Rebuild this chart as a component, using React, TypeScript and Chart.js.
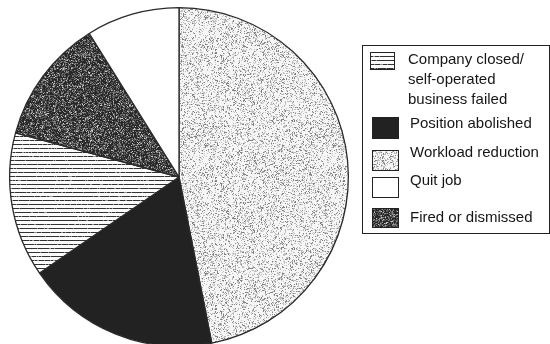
import React, { useEffect, useRef } from "react";
import { Chart, registerables } from "chart.js";

Chart.register(...registerables);

// Reasons for job loss, clockwise from 12 o'clock
const categoryLines: string[][] = [
  ["Workload reduction"],
  ["Position abolished"],
  ["Company closed/", "self-operated", "business failed"],
  ["Fired or dismissed"],
  ["Quit job"],
];
const categories = categoryLines.map((l) => l.join(" "));
const shares = [46.9, 18.5, 13.8, 11.9, 8.9];
// order in which the key lists the categories
const legendOrder = [2, 1, 0, 4, 3];

type Fill = "light" | "solid" | "lines" | "dark" | "white";
const fills: Fill[] = ["light", "solid", "lines", "dark", "white"];

function hash(x: number, y: number, seed: number): number {
  let h = Math.imul(x, 374761393) + Math.imul(y, 668265263) + Math.imul(seed, 1442695041);
  h = Math.imul(h ^ (h >>> 13), 1274126177);
  h = h ^ (h >>> 16);
  return (h >>> 0) / 4294967296;
}

function makeTile(kind: Fill): HTMLCanvasElement {
  const size = 128;
  const c = document.createElement("canvas");
  c.width = size;
  c.height = size;
  const g = c.getContext("2d")!;
  const img = g.createImageData(size, size);
  for (let y = 0; y < size; y++) {
    for (let x = 0; x < size; x++) {
      let v = 255;
      const r = hash(x, y, kind === "dark" ? 7 : kind === "lines" ? 3 : 1);
      if (kind === "light") {
        v = r < 0.1 ? 130 : r < 0.3 ? 190 : 246;
      } else if (kind === "dark") {
        v = r < 0.5 ? 40 : r < 0.8 ? 90 : r < 0.95 ? 140 : 200;
      } else if (kind === "solid") {
        v = 34;
      } else if (kind === "lines") {
        v = y % 4 === 0 ? (r < 0.85 ? 50 : 150) : 252;
      }
      const i = (y * size + x) * 4;
      img.data[i] = v;
      img.data[i + 1] = v;
      img.data[i + 2] = v;
      img.data[i + 3] = 255;
    }
  }
  g.putImageData(img, 0, 0);
  return c;
}

export default function App() {
  const ref = useRef<HTMLCanvasElement>(null);

  useEffect(() => {
    const canvas = ref.current!;
    const ctx = canvas.getContext("2d")!;
    const patterns = fills.map((f) => ctx.createPattern(makeTile(f), "repeat")!);

    const keyPlugin = {
      id: "reasonKey",
      afterDraw(chart: Chart) {
        const c = chart.ctx;
        c.save();
        c.strokeStyle = "#222";
        c.lineWidth = 1;
        c.strokeRect(362.5, 45.5, 187, 188);

        const rows = [
          { box: [370, 52, 24, 17], text: [408, 60] },
          { box: [372, 117, 26, 21], text: [410, 124] },
          { box: [372, 150, 26, 20], text: [410, 153] },
          { box: [372, 177, 26, 20], text: [410, 181] },
          { box: [372, 208, 26, 19], text: [410, 218] },
        ];
        c.font = '15px "Liberation Sans", Arial, sans-serif';
        c.textBaseline = "middle";
        c.textAlign = "left";
        legendOrder.forEach((idx, k) => {
          const { box, text } = rows[k];
          c.fillStyle = patterns[idx];
          c.fillRect(box[0], box[1], box[2], box[3]);
          c.strokeStyle = "#222";
          c.strokeRect(box[0] + 0.5, box[1] + 0.5, box[2], box[3]);
          c.fillStyle = "#161616";
          categoryLines[idx].forEach((line, j) => {
            c.fillText(line, text[0], text[1] + j * 20);
          });
        });
        c.restore();
      },
    };

    const chart = new Chart(canvas, {
      type: "pie",
      data: {
        labels: categories,
        datasets: [
          {
            data: shares,
            backgroundColor: patterns as any,
            borderColor: "#2a2a2a",
            borderWidth: 1.3,
            hoverBorderWidth: 1.3,
          },
        ],
      },
      options: {
        animation: false,
        responsive: false,
        devicePixelRatio: 1,
        events: [],
        layout: { padding: { left: 9, top: 7, right: 201, bottom: 0 } },
        plugins: {
          legend: { display: false },
          tooltip: { enabled: false },
        },
      },
      plugins: [keyPlugin],
    });
    return () => chart.destroy();
  }, []);

  return (
    <div
      style={{
        position: "fixed",
        left: 0,
        top: 0,
        width: 550,
        height: 344,
        overflow: "hidden",
        background: "#fff",
      }}
    >
      <canvas ref={ref} width={550} height={347} style={{ display: "block" }} />
    </div>
  );
}
